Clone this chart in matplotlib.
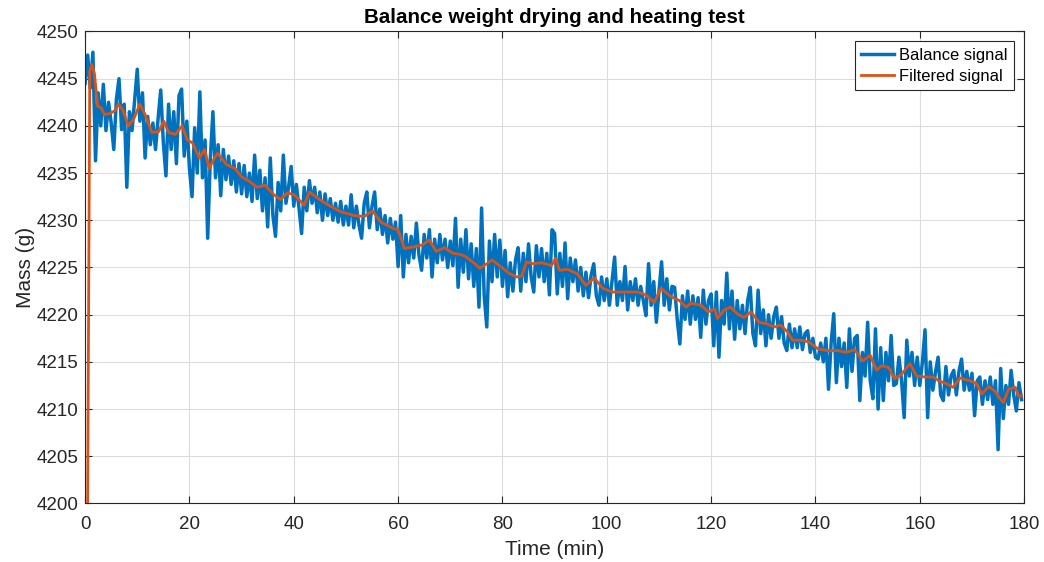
import numpy as np
import matplotlib.pyplot as plt

# Balance signal, one sample every 0.5 min starting at t = 0
sample_step = 0.5
balance = [
    4244.5, 4247.5, 4244.0, 4247.8, 4236.3, 4243.5, 4240.0, 4244.4, 4239.5, 4242.5,
    4240.3, 4237.5, 4242.8, 4245.0, 4239.6, 4242.3, 4233.5, 4241.5, 4239.5, 4242.8,
    4246.0, 4240.5, 4243.5, 4236.6, 4241.0, 4238.0, 4240.3, 4237.5, 4240.8, 4243.8,
    4238.2, 4234.7, 4242.3, 4237.5, 4241.5, 4236.0, 4243.2, 4243.9, 4236.8, 4240.5,
    4235.5, 4232.5, 4239.8, 4235.0, 4243.6, 4234.5, 4238.5, 4228.1, 4236.5, 4241.5,
    4234.5, 4238.0, 4232.6, 4237.5, 4234.3, 4236.8, 4233.8, 4236.3, 4233.0, 4236.0,
    4232.8, 4235.8, 4232.5, 4235.0, 4232.0, 4236.9, 4232.3, 4235.3, 4231.0, 4234.5,
    4229.3, 4236.6, 4230.5, 4228.3, 4234.0, 4231.0, 4236.9, 4231.8, 4233.5, 4235.7,
    4231.5, 4233.8, 4231.3, 4228.6, 4233.5, 4231.0, 4234.2, 4231.8, 4233.5, 4230.8,
    4233.0, 4230.0, 4232.8, 4230.5, 4232.3, 4230.0, 4231.8, 4229.8, 4232.0, 4229.5,
    4231.5, 4229.5, 4232.7, 4229.2, 4231.5, 4229.5, 4228.1, 4231.8, 4233.0, 4229.2,
    4231.5, 4233.0, 4229.0, 4231.2, 4228.5, 4230.5, 4227.6, 4230.2, 4228.0, 4229.8,
    4225.1, 4230.5, 4224.0, 4228.5, 4225.5, 4228.3, 4226.0, 4229.7, 4226.3, 4224.7,
    4228.5, 4226.0, 4229.0, 4224.0, 4228.0, 4225.5, 4228.5, 4225.8, 4228.0, 4225.0,
    4227.8, 4225.2, 4230.2, 4222.9, 4228.0, 4224.5, 4229.0, 4223.8, 4227.5, 4223.0,
    4227.0, 4220.8, 4231.3, 4222.0, 4218.7, 4227.8, 4223.5, 4228.5, 4224.0, 4227.9,
    4223.0, 4226.8, 4221.9, 4225.5, 4222.5, 4225.8, 4227.1, 4222.5, 4226.5, 4223.5,
    4227.5, 4224.0, 4222.4, 4227.3, 4224.0, 4227.0, 4223.5, 4226.5, 4222.1, 4229.0,
    4228.6, 4222.2, 4226.5, 4223.0, 4227.6, 4221.7, 4226.0, 4223.5, 4225.8, 4222.5,
    4225.0, 4222.0, 4224.5, 4221.8, 4224.2, 4225.4, 4222.0, 4221.0, 4224.0, 4221.5,
    4223.8, 4221.0, 4223.5, 4226.1, 4221.0, 4223.5, 4221.5, 4225.1, 4220.5, 4223.5,
    4221.5, 4223.8, 4221.0, 4223.0, 4221.5, 4219.9, 4225.4, 4221.0, 4223.5, 4219.2,
    4222.5, 4225.6, 4221.0, 4223.8, 4220.5, 4223.0, 4222.9, 4219.5, 4216.9, 4222.0,
    4219.5, 4222.5, 4219.0, 4222.0, 4219.5, 4221.8, 4217.6, 4222.6, 4219.0, 4221.5,
    4222.2, 4216.7, 4222.4, 4215.5, 4221.5, 4219.0, 4224.4, 4218.5, 4222.5, 4217.4,
    4221.5, 4218.5, 4221.0, 4218.0, 4221.5, 4222.9, 4218.0, 4216.7, 4222.6, 4218.0,
    4220.5, 4216.7, 4220.0, 4217.5, 4219.8, 4220.8, 4217.5, 4219.8, 4217.0, 4216.2,
    4219.0, 4216.5, 4218.5, 4216.5, 4218.7, 4216.3, 4218.0, 4218.3, 4216.0, 4217.5,
    4215.5, 4215.3, 4217.0, 4215.0, 4217.5, 4212.1, 4217.0, 4220.1, 4212.8, 4217.5,
    4214.5, 4217.0, 4212.3, 4218.5, 4214.0, 4217.5, 4217.8, 4210.9, 4216.0, 4213.5,
    4219.2, 4213.0, 4211.1, 4218.5, 4210.0, 4216.5, 4210.9, 4216.0, 4213.0, 4217.8,
    4212.5, 4212.7, 4215.5, 4213.0, 4209.1, 4217.3, 4213.5, 4216.0, 4212.5, 4215.5,
    4212.5, 4215.0, 4218.4, 4209.1, 4215.0, 4212.0, 4213.9, 4215.5, 4211.5, 4210.9,
    4214.5, 4211.5, 4213.5, 4214.1, 4211.5, 4214.0, 4215.3, 4212.0, 4214.0, 4212.0,
    4213.8, 4209.3, 4213.0, 4213.4, 4210.5, 4213.0, 4211.0, 4213.4, 4210.5, 4213.0,
    4205.7, 4214.3, 4209.0, 4212.5, 4210.5, 4214.1, 4211.5, 4209.8, 4212.8, 4211.0,
]

# Filtered signal (time in min, mass in g)
filt_time = [
    0.4, 0.9, 1.3, 1.8, 2.4, 3.1, 3.7, 4.7, 5.7, 6.4,
    7.3, 8.3, 9.3, 10.5, 11.5, 12.8, 14.1, 15.1, 16.0, 17.3,
    18.6, 19.6, 20.6, 21.9, 22.9, 23.8, 24.8, 25.4, 27.1, 28.7,
    30.0, 31.3, 33.0, 34.5, 36.2, 37.5, 38.8, 40.1, 42.0, 43.0,
    45.2, 47.0, 49.0, 51.6, 53.5, 55.1, 56.7, 59.2, 60.0, 61.2,
    63.1, 64.7, 66.0, 67.3, 68.9, 70.5, 71.8, 72.8, 74.7, 75.7,
    77.0, 78.0, 79.2, 81.2, 82.7, 83.7, 84.6, 85.9, 87.5, 89.4,
    90.2, 90.9, 92.5, 94.4, 96.0, 97.6, 99.2, 101.1, 103.3, 105.9,
    107.5, 109.1, 110.4, 112.3, 113.9, 115.2, 116.1, 118.1, 119.4, 120.7,
    121.2, 122.5, 123.7, 125.0, 126.3, 127.6, 129.2, 130.8, 132.1, 133.3,
    134.6, 135.6, 137.2, 138.8, 140.4, 142.3, 144.3, 145.9, 147.5, 149.1,
    150.5, 151.7, 152.7, 154.0, 155.2, 156.5, 158.1, 159.4, 161.0, 162.6,
    163.6, 165.1, 166.4, 167.7, 169.6, 170.9, 171.9, 173.2, 174.4, 175.4,
    176.0, 177.0, 178.3, 178.9, 179.5,
]
filt_mass = [
    4190.0, 4245.8, 4246.5, 4245.5, 4242.1, 4241.9, 4241.2, 4241.3, 4241.6, 4242.3,
    4241.6, 4240.0, 4240.7, 4242.3, 4241.2, 4239.3, 4239.4, 4240.5, 4239.3, 4239.1,
    4240.0, 4238.5, 4238.2, 4236.6, 4237.5, 4235.5, 4236.6, 4237.1, 4235.9, 4235.5,
    4234.6, 4234.2, 4233.5, 4233.7, 4232.7, 4232.2, 4232.9, 4232.7, 4231.6, 4233.0,
    4232.1, 4231.5, 4230.9, 4230.5, 4230.4, 4231.0, 4229.8, 4229.1, 4229.0, 4227.0,
    4227.2, 4227.4, 4227.9, 4226.7, 4227.1, 4226.5, 4226.4, 4226.2, 4225.4, 4224.9,
    4225.4, 4225.8, 4225.3, 4224.4, 4224.0, 4224.1, 4225.6, 4225.4, 4225.5, 4225.2,
    4226.0, 4224.7, 4224.8, 4224.3, 4223.1, 4223.9, 4222.8, 4222.4, 4222.4, 4222.4,
    4222.1, 4221.3, 4222.8, 4221.9, 4221.5, 4220.8, 4221.2, 4221.0, 4220.3, 4220.6,
    4219.6, 4220.5, 4220.8, 4220.1, 4219.7, 4220.3, 4219.2, 4219.0, 4218.7, 4218.9,
    4218.2, 4217.3, 4217.3, 4217.1, 4216.4, 4216.2, 4216.2, 4216.0, 4216.3, 4215.1,
    4215.7, 4214.1, 4214.6, 4214.4, 4213.2, 4213.7, 4214.8, 4213.5, 4213.4, 4213.4,
    4213.0, 4212.7, 4212.3, 4213.3, 4213.0, 4212.7, 4211.6, 4212.4, 4211.9, 4211.1,
    4210.7, 4212.1, 4212.3, 4211.4, 4211.4,
]

balance_time = np.arange(len(balance)) * sample_step

plt.rcParams['font.family'] = ['Liberation Sans', 'DejaVu Sans']
text_col = '#262626'

fig = plt.figure(figsize=(10.44, 5.62), dpi=100)
ax = fig.add_axes([0.0815, 0.1041, 0.8995, 0.8399])

ax.plot(balance_time, balance, color='#0072BD', linewidth=2.5, label='Balance signal')
ax.plot(filt_time, filt_mass, color='#D95319', linewidth=2.0, label='Filtered signal')

ax.set_xlim(0, 180)
ax.set_ylim(4200, 4250)
ax.set_xticks(np.arange(0, 181, 20))
ax.set_yticks(np.arange(4200, 4251, 5))

ax.grid(True, color='#dcdcdc', linewidth=0.8)
ax.set_axisbelow(True)
ax.tick_params(direction='in', top=True, right=True, length=5, width=0.8,
               labelsize=13.5, colors=text_col, pad=5)
ax.tick_params(axis='x', pad=9)
for s in ax.spines.values():
    s.set_color(text_col)
    s.set_linewidth(0.8)

ax.set_title('Balance weight drying and heating test', fontsize=14.8,
             fontweight='bold', color='black', pad=6)
ax.set_xlabel('Time (min)', fontsize=15, color=text_col, labelpad=5)
ax.set_ylabel('Mass (g)', fontsize=15, color=text_col, labelpad=1)

leg = ax.legend(loc='upper right', fontsize=11.9, fancybox=False, framealpha=1,
                edgecolor=text_col, handlelength=2.0, borderpad=0.4,
                labelspacing=0.35, handletextpad=0.3, borderaxespad=0.6)
leg.get_frame().set_linewidth(0.8)

plt.savefig('out.png', dpi=100)
